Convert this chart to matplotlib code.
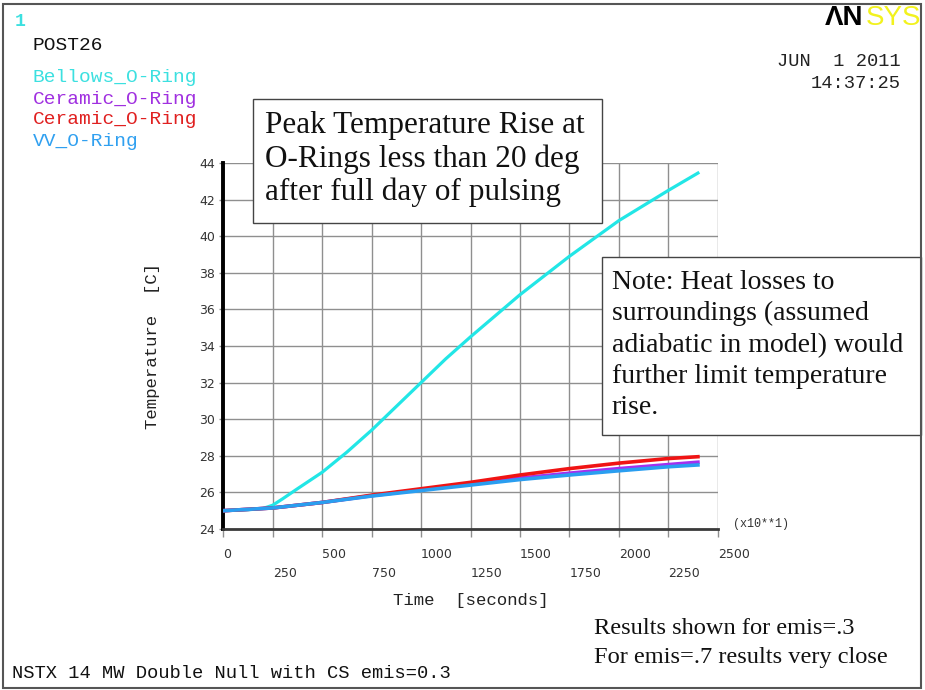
import matplotlib
matplotlib.use("Agg")
import matplotlib.pyplot as plt
from matplotlib.patches import Rectangle

# ---- data (time in units of 10 s, temperature in C) ----
t_bellows = [0, 125, 200, 250, 300, 375, 500, 625, 750, 875, 1000, 1125, 1250,
             1500, 1750, 2000, 2250, 2400]
T_bellows = [25.0, 25.05, 25.12, 25.3, 25.65, 26.2, 27.1, 28.2, 29.4, 30.7, 32.0,
             33.3, 34.5, 36.8, 38.9, 40.85, 42.5, 43.45]

t_slow = [0, 250, 500, 750, 1000, 1250, 1500, 1750, 2000, 2250, 2400]
T_ceramic_a = [25.0, 25.15, 25.45, 25.82, 26.15, 26.45, 26.78, 27.05, 27.3, 27.52, 27.65]
T_ceramic_b = [25.0, 25.15, 25.45, 25.85, 26.2, 26.55, 26.95, 27.3, 27.6, 27.85, 27.95]
T_vv = [25.0, 25.15, 25.45, 25.8, 26.1, 26.4, 26.7, 26.95, 27.18, 27.4, 27.5]

series_names = ["Bellows_O-Ring", "Ceramic_O-Ring", "Ceramic_O-Ring", "VV_O-Ring"]
series_colors = ["#22E6E6", "#A42FEF", "#F01414", "#2A9EF0"]
label_colors = ["#3CE0E0", "#A030E0", "#E02020", "#30A0F0"]

x_major = [0, 500, 1000, 1500, 2000, 2500]
x_minor = [250, 750, 1250, 1750, 2250]
y_ticks = [24, 26, 28, 30, 32, 34, 36, 38, 40, 42, 44]

W, H = 925, 690
fig = plt.figure(figsize=(W / 100, H / 100), dpi=100)
fig.patch.set_facecolor("white")


def fx(x):
    return x / W


def fy(y):
    return 1 - y / H


mono = "Liberation Mono"
serif = "Liberation Serif"

# ---- plot area ----
ax = fig.add_axes([fx(223.3), fy(529), fx(717.7) - fx(223.3), fy(163) - fy(529)])
ax.set_xlim(0, 2500)
ax.set_ylim(24, 44)

ax.plot(t_bellows, T_bellows, color=series_colors[0], lw=2.3, zorder=3)
ax.plot(t_slow, T_ceramic_a, color=series_colors[1], lw=2.6, zorder=3)
ax.plot(t_slow, T_ceramic_b, color=series_colors[2], lw=2.6, zorder=3)
ax.plot(t_slow, T_vv, color=series_colors[3], lw=2.6, zorder=4)

ax.set_xticks(x_major)
ax.set_xticklabels([str(v) for v in x_major])
ax.set_xticks(x_minor, minor=True)
ax.set_xticklabels([str(v) for v in x_minor], minor=True)
ax.set_yticks(y_ticks)
ax.set_yticklabels([str(v) for v in y_ticks])

ax.grid(True, which="both", color="#8f8f8f", lw=1.0)
ax.set_axisbelow(True)
for s in ("top", "right"):
    ax.spines[s].set_visible(False)
ax.spines["left"].set_color("black")
ax.spines["left"].set_linewidth(2.8)
ax.spines["bottom"].set_color("#3a3a3a")
ax.spines["bottom"].set_linewidth(2.0)

ax.tick_params(axis="x", which="major", length=5.5, width=1, color="#8f8f8f",
               pad=8, labelsize=9, labelcolor="#333333")
ax.tick_params(axis="x", which="minor", length=5.5, width=1, color="#8f8f8f",
               pad=22, labelsize=9, labelcolor="#333333")
ax.tick_params(axis="y", length=3, width=1, color="#8f8f8f", pad=3,
               labelsize=9, labelcolor="#333333")
for lab in ax.get_xticklabels() + ax.get_xticklabels(minor=True):
    lab.set_horizontalalignment("left")

ax.set_xlabel("Time  [seconds]", fontfamily=mono, fontsize=12.5,
              color="#222222")
ax.set_ylabel("Temperature  [C]", fontfamily=mono, fontsize=12.5,
              color="#222222")
ax.xaxis.set_label_coords(0.5, -0.176)
ax.yaxis.set_label_coords(-0.128, 0.5)

fig.text(fx(733), fy(524), "(x10**1)", fontfamily=mono, fontsize=8.5,
         color="#333333", ha="left", va="center")

# ---- header / legend text ----
fig.text(fx(15), fy(22), "1", fontfamily=mono, fontsize=13, fontweight="bold",
         color="#3CE0E0", ha="left", va="center")
fig.text(fx(33), fy(45), "POST26", fontfamily=mono, fontsize=14,
         color="#111111", ha="left", va="center")
for i, (name, c) in enumerate(zip(series_names, label_colors)):
    fig.text(fx(33), fy(78 + 21 * i), name, fontfamily=mono, fontsize=14,
             color=c, ha="left", va="center")

fig.text(fx(901), fy(62), "JUN  1 2011", fontfamily=mono, fontsize=13.5,
         color="#222222", ha="right", va="center")
fig.text(fx(901), fy(83), "14:37:25", fontfamily=mono, fontsize=13.5,
         color="#222222", ha="right", va="center")

# logo
fig.text(fx(825), fy(18), "\u039bN", fontfamily="Liberation Sans",
         fontsize=20, fontweight="bold", color="black", ha="left",
         va="center")
fig.text(fx(866), fy(18), "SYS", fontfamily="Liberation Sans", fontsize=20,
         color="#F2F21E", ha="left", va="center")

# ---- annotation boxes ----
fig.add_artist(Rectangle((fx(253.3), fy(222.7)), fx(602.3) - fx(253.3),
                         fy(99.3) - fy(222.7), transform=fig.transFigure,
                         facecolor="white", edgecolor="#444444", lw=1.0,
                         zorder=5))
fig.text(fx(265), fy(111), "Peak Temperature Rise at\nO-Rings less than 20 deg\n"
         "after full day of pulsing", fontfamily=serif, fontsize=22.5,
         linespacing=1.18, color="#111111", ha="left", va="top", zorder=6)

fig.add_artist(Rectangle((fx(602.3), fy(435)), fx(921) - fx(602.3),
                         fy(257) - fy(435), transform=fig.transFigure,
                         facecolor="white", edgecolor="#444444", lw=1.0,
                         zorder=5))
fig.text(fx(611.7), fy(270), "Note: Heat losses to\nsurroundings (assumed\n"
         "adiabatic in model) would\nfurther limit temperature\nrise.",
         fontfamily=serif, fontsize=20, linespacing=1.33, color="#111111",
         ha="left", va="top", zorder=6)

fig.text(fx(594), fy(629), "Results shown for emis=.3", fontfamily=serif,
         fontsize=17.6, color="#111111", ha="left", va="center")
fig.text(fx(594), fy(657), "For emis=.7 results very close", fontfamily=serif,
         fontsize=17.6, color="#111111", ha="left", va="center")

fig.text(fx(12), fy(673), "NSTX 14 MW Double Null with CS emis=0.3",
         fontfamily=mono, fontsize=13.5, color="#111111", ha="left",
         va="center")

# outer frame
fig.add_artist(Rectangle((fx(2.5), fy(688)), fx(921) - fx(2.5),
                         fy(3.5) - fy(688), transform=fig.transFigure,
                         facecolor="none", edgecolor="#555555", lw=1.5,
                         zorder=7))

fig.savefig("out.png", dpi=100, facecolor="white")
